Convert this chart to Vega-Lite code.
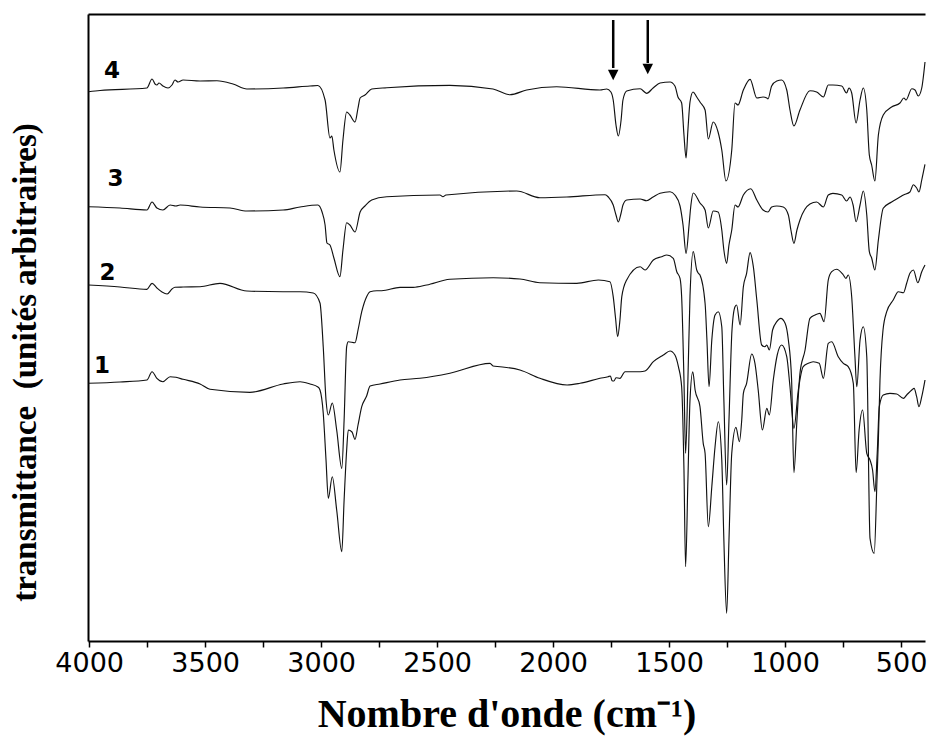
{
"$schema": "https://vega.github.io/schema/vega-lite/v6.json",
"width": 837, "height": 627,
"autosize": {"type": "none"},
"padding": {"left": 88, "top": 14, "right": 4, "bottom": 95},
"background": "white",
"config": {"view": {"stroke": null}, "axis": {"grid": false}},
"datasets": {
"spectra": [
{"s":"4","w":4003,"v":549.3},{"s":"4","w":3953,"v":550.5},{"s":"4","w":3751,"v":553},{"s":"4","w":3729,"v":562},{"s":"4","w":3716,"v":557},{"s":"4","w":3708,"v":556},{"s":"4","w":3699,"v":558},{"s":"4","w":3682,"v":555},{"s":"4","w":3660,"v":553},{"s":"4","w":3643,"v":556},{"s":"4","w":3630,"v":561},{"s":"4","w":3617,"v":559},{"s":"4","w":3595,"v":561},{"s":"4","w":3522,"v":560},{"s":"4","w":3449,"v":560.3},{"s":"4","w":3380,"v":557},{"s":"4","w":3320,"v":552},{"s":"4","w":3164,"v":553},{"s":"4","w":3048,"v":555},{"s":"4","w":3014,"v":555.5},{"s":"4","w":2983,"v":541},{"s":"4","w":2962,"v":503},{"s":"4","w":2954,"v":505},{"s":"4","w":2945,"v":491},{"s":"4","w":2919,"v":469},{"s":"4","w":2906,"v":501},{"s":"4","w":2890,"v":529},{"s":"4","w":2876,"v":526},{"s":"4","w":2854,"v":519},{"s":"4","w":2841,"v":533},{"s":"4","w":2832,"v":543},{"s":"4","w":2811,"v":546},{"s":"4","w":2782,"v":552},{"s":"4","w":2717,"v":553.3},{"s":"4","w":2445,"v":555.7},{"s":"4","w":2259,"v":552},{"s":"4","w":2186,"v":546.3},{"s":"4","w":2114,"v":551},{"s":"4","w":1985,"v":554.3},{"s":"4","w":1798,"v":551},{"s":"4","w":1769,"v":552},{"s":"4","w":1751,"v":549},{"s":"4","w":1741,"v":541},{"s":"4","w":1729,"v":516},{"s":"4","w":1719,"v":505},{"s":"4","w":1707,"v":521},{"s":"4","w":1699,"v":541},{"s":"4","w":1683,"v":550},{"s":"4","w":1625,"v":552.3},{"s":"4","w":1597,"v":547.7},{"s":"4","w":1569,"v":553},{"s":"4","w":1539,"v":558},{"s":"4","w":1496,"v":559},{"s":"4","w":1475,"v":555},{"s":"4","w":1462,"v":544},{"s":"4","w":1446,"v":538},{"s":"4","w":1436,"v":506},{"s":"4","w":1427,"v":483},{"s":"4","w":1419,"v":511},{"s":"4","w":1410,"v":539},{"s":"4","w":1397,"v":549},{"s":"4","w":1381,"v":544},{"s":"4","w":1367,"v":539},{"s":"4","w":1345,"v":531},{"s":"4","w":1331,"v":502},{"s":"4","w":1310,"v":519},{"s":"4","w":1289,"v":509},{"s":"4","w":1273,"v":491},{"s":"4","w":1255,"v":460},{"s":"4","w":1230,"v":491},{"s":"4","w":1216,"v":538},{"s":"4","w":1203,"v":536},{"s":"4","w":1180,"v":551},{"s":"4","w":1151,"v":561.7},{"s":"4","w":1122,"v":543},{"s":"4","w":1095,"v":544},{"s":"4","w":1079,"v":543},{"s":"4","w":1074,"v":542},{"s":"4","w":1058,"v":555},{"s":"4","w":1036,"v":560},{"s":"4","w":1015,"v":561},{"s":"4","w":993,"v":551},{"s":"4","w":979,"v":531},{"s":"4","w":962,"v":515},{"s":"4","w":936,"v":531},{"s":"4","w":893,"v":550.3},{"s":"4","w":864,"v":549},{"s":"4","w":835,"v":544},{"s":"4","w":814,"v":556},{"s":"4","w":794,"v":556},{"s":"4","w":756,"v":555},{"s":"4","w":735,"v":548},{"s":"4","w":725,"v":553},{"s":"4","w":713,"v":548},{"s":"4","w":694,"v":518},{"s":"4","w":677,"v":541},{"s":"4","w":663,"v":553},{"s":"4","w":648,"v":531},{"s":"4","w":637,"v":486},{"s":"4","w":627,"v":476},{"s":"4","w":613,"v":460},{"s":"4","w":598,"v":506},{"s":"4","w":577,"v":526},{"s":"4","w":541,"v":534},{"s":"4","w":505,"v":538},{"s":"4","w":488,"v":543},{"s":"4","w":479,"v":541},{"s":"4","w":454,"v":552.3},{"s":"4","w":440,"v":551},{"s":"4","w":426,"v":545},{"s":"4","w":411,"v":553},{"s":"4","w":397,"v":579},
{"s":"3","w":4003,"v":434.3},{"s":"3","w":3867,"v":433},{"s":"3","w":3751,"v":431},{"s":"3","w":3729,"v":439},{"s":"3","w":3708,"v":433},{"s":"3","w":3682,"v":431},{"s":"3","w":3651,"v":436},{"s":"3","w":3626,"v":435},{"s":"3","w":3608,"v":436},{"s":"3","w":3522,"v":434},{"s":"3","w":3393,"v":433},{"s":"3","w":3320,"v":430},{"s":"3","w":3164,"v":431},{"s":"3","w":3091,"v":434},{"s":"3","w":3014,"v":436},{"s":"3","w":2996,"v":429},{"s":"3","w":2983,"v":416},{"s":"3","w":2975,"v":398},{"s":"3","w":2962,"v":396},{"s":"3","w":2945,"v":383},{"s":"3","w":2919,"v":364.3},{"s":"3","w":2906,"v":391},{"s":"3","w":2890,"v":418.3},{"s":"3","w":2876,"v":416},{"s":"3","w":2854,"v":409},{"s":"3","w":2832,"v":429},{"s":"3","w":2811,"v":435},{"s":"3","w":2782,"v":441},{"s":"3","w":2717,"v":444.3},{"s":"3","w":2488,"v":446},{"s":"3","w":2475,"v":444.3},{"s":"3","w":2462,"v":446},{"s":"3","w":2157,"v":450},{"s":"3","w":2057,"v":443.3},{"s":"3","w":1941,"v":444},{"s":"3","w":1776,"v":446.3},{"s":"3","w":1762,"v":444},{"s":"3","w":1741,"v":436},{"s":"3","w":1729,"v":426},{"s":"3","w":1719,"v":419},{"s":"3","w":1707,"v":428},{"s":"3","w":1699,"v":436},{"s":"3","w":1683,"v":441},{"s":"3","w":1625,"v":442},{"s":"3","w":1597,"v":440.3},{"s":"3","w":1569,"v":444},{"s":"3","w":1539,"v":447.7},{"s":"3","w":1496,"v":449.3},{"s":"3","w":1475,"v":446},{"s":"3","w":1453,"v":435},{"s":"3","w":1440,"v":416},{"s":"3","w":1427,"v":387.7},{"s":"3","w":1414,"v":416},{"s":"3","w":1406,"v":436},{"s":"3","w":1396,"v":448},{"s":"3","w":1367,"v":438},{"s":"3","w":1345,"v":431},{"s":"3","w":1331,"v":413},{"s":"3","w":1310,"v":430},{"s":"3","w":1289,"v":429},{"s":"3","w":1273,"v":411},{"s":"3","w":1264,"v":391},{"s":"3","w":1252,"v":377.7},{"s":"3","w":1242,"v":396},{"s":"3","w":1230,"v":411},{"s":"3","w":1216,"v":436},{"s":"3","w":1203,"v":434},{"s":"3","w":1180,"v":446},{"s":"3","w":1148,"v":452.3},{"s":"3","w":1122,"v":441},{"s":"3","w":1095,"v":431},{"s":"3","w":1074,"v":429},{"s":"3","w":1058,"v":434},{"s":"3","w":1036,"v":435},{"s":"3","w":1008,"v":434},{"s":"3","w":986,"v":426},{"s":"3","w":975,"v":411},{"s":"3","w":962,"v":397.7},{"s":"3","w":949,"v":411},{"s":"3","w":936,"v":421},{"s":"3","w":893,"v":437},{"s":"3","w":864,"v":439},{"s":"3","w":835,"v":434},{"s":"3","w":814,"v":446},{"s":"3","w":794,"v":447.7},{"s":"3","w":756,"v":446},{"s":"3","w":735,"v":440},{"s":"3","w":720,"v":444},{"s":"3","w":707,"v":436},{"s":"3","w":694,"v":419.3},{"s":"3","w":677,"v":436},{"s":"3","w":663,"v":450},{"s":"3","w":648,"v":426},{"s":"3","w":637,"v":389.3},{"s":"3","w":627,"v":383},{"s":"3","w":613,"v":371},{"s":"3","w":598,"v":401},{"s":"3","w":577,"v":432.7},{"s":"3","w":541,"v":439},{"s":"3","w":505,"v":444},{"s":"3","w":490,"v":446},{"s":"3","w":462,"v":449},{"s":"3","w":447,"v":456.3},{"s":"3","w":433,"v":453},{"s":"3","w":423,"v":449},{"s":"3","w":411,"v":461},{"s":"3","w":397,"v":476.7},
{"s":"2","w":4003,"v":356},{"s":"2","w":3867,"v":354},{"s":"2","w":3751,"v":351.7},{"s":"2","w":3729,"v":357.7},{"s":"2","w":3708,"v":353},{"s":"2","w":3686,"v":349},{"s":"2","w":3664,"v":347},{"s":"2","w":3643,"v":352},{"s":"2","w":3630,"v":353.7},{"s":"2","w":3595,"v":354},{"s":"2","w":3522,"v":354.3},{"s":"2","w":3436,"v":357.7},{"s":"2","w":3320,"v":350},{"s":"2","w":3164,"v":349.3},{"s":"2","w":3091,"v":349.3},{"s":"2","w":3034,"v":348},{"s":"2","w":3005,"v":338},{"s":"2","w":2991,"v":294.3},{"s":"2","w":2979,"v":241},{"s":"2","w":2969,"v":226},{"s":"2","w":2952,"v":238},{"s":"2","w":2933,"v":211},{"s":"2","w":2911,"v":172.7},{"s":"2","w":2901,"v":221},{"s":"2","w":2890,"v":294.3},{"s":"2","w":2883,"v":299.3},{"s":"2","w":2854,"v":298.3},{"s":"2","w":2841,"v":311},{"s":"2","w":2825,"v":329.3},{"s":"2","w":2804,"v":344.3},{"s":"2","w":2789,"v":349.3},{"s":"2","w":2760,"v":350.3},{"s":"2","w":2739,"v":350.3},{"s":"2","w":2660,"v":353.7},{"s":"2","w":2603,"v":353.7},{"s":"2","w":2545,"v":356},{"s":"2","w":2445,"v":361.7},{"s":"2","w":2258,"v":363.3},{"s":"2","w":2143,"v":362},{"s":"2","w":2057,"v":358.3},{"s":"2","w":1898,"v":357.7},{"s":"2","w":1805,"v":361},{"s":"2","w":1755,"v":359.3},{"s":"2","w":1741,"v":344.3},{"s":"2","w":1731,"v":323},{"s":"2","w":1722,"v":304.3},{"s":"2","w":1712,"v":321},{"s":"2","w":1704,"v":344.3},{"s":"2","w":1683,"v":361},{"s":"2","w":1625,"v":374.3},{"s":"2","w":1604,"v":371},{"s":"2","w":1568,"v":381},{"s":"2","w":1532,"v":384.3},{"s":"2","w":1510,"v":386},{"s":"2","w":1482,"v":382.7},{"s":"2","w":1467,"v":369.3},{"s":"2","w":1453,"v":362.7},{"s":"2","w":1446,"v":344.3},{"s":"2","w":1436,"v":261},{"s":"2","w":1429,"v":187.7},{"s":"2","w":1419,"v":261},{"s":"2","w":1410,"v":345},{"s":"2","w":1396,"v":389.3},{"s":"2","w":1381,"v":371},{"s":"2","w":1374,"v":367.7},{"s":"2","w":1367,"v":366},{"s":"2","w":1345,"v":337.7},{"s":"2","w":1337,"v":301},{"s":"2","w":1328,"v":254.3},{"s":"2","w":1316,"v":301},{"s":"2","w":1302,"v":326},{"s":"2","w":1288,"v":329.3},{"s":"2","w":1273,"v":314.3},{"s":"2","w":1264,"v":241},{"s":"2","w":1252,"v":156},{"s":"2","w":1242,"v":221},{"s":"2","w":1229,"v":311},{"s":"2","w":1216,"v":334.3},{"s":"2","w":1209,"v":336},{"s":"2","w":1194,"v":316},{"s":"2","w":1180,"v":354.3},{"s":"2","w":1166,"v":367.7},{"s":"2","w":1151,"v":388.3},{"s":"2","w":1137,"v":374.3},{"s":"2","w":1122,"v":341},{"s":"2","w":1101,"v":296},{"s":"2","w":1087,"v":294.3},{"s":"2","w":1079,"v":296},{"s":"2","w":1068,"v":291},{"s":"2","w":1054,"v":311},{"s":"2","w":1036,"v":319.3},{"s":"2","w":1019,"v":322.7},{"s":"2","w":1000,"v":317.7},{"s":"2","w":986,"v":301},{"s":"2","w":972,"v":261},{"s":"2","w":962,"v":168.3},{"s":"2","w":949,"v":221},{"s":"2","w":936,"v":267.7},{"s":"2","w":914,"v":291},{"s":"2","w":893,"v":322.7},{"s":"2","w":871,"v":326},{"s":"2","w":850,"v":327.7},{"s":"2","w":832,"v":319.3},{"s":"2","w":814,"v":361},{"s":"2","w":799,"v":369.3},{"s":"2","w":778,"v":371.7},{"s":"2","w":749,"v":366},{"s":"2","w":738,"v":362.7},{"s":"2","w":728,"v":366},{"s":"2","w":713,"v":344.3},{"s":"2","w":699,"v":284.3},{"s":"2","w":691,"v":254.3},{"s":"2","w":677,"v":301},{"s":"2","w":663,"v":314.3},{"s":"2","w":648,"v":284.3},{"s":"2","w":634,"v":102.7},{"s":"2","w":616,"v":87.7},{"s":"2","w":604,"v":161},{"s":"2","w":598,"v":201},{"s":"2","w":591,"v":261},{"s":"2","w":578,"v":311},{"s":"2","w":562,"v":329.3},{"s":"2","w":534,"v":341},{"s":"2","w":512,"v":349.3},{"s":"2","w":490,"v":348.3},{"s":"2","w":476,"v":357.7},{"s":"2","w":462,"v":367.7},{"s":"2","w":447,"v":371},{"s":"2","w":428,"v":358.3},{"s":"2","w":411,"v":369.3},{"s":"2","w":397,"v":376},
{"s":"1","w":4003,"v":257.7},{"s":"1","w":3867,"v":259},{"s":"1","w":3751,"v":261},{"s":"1","w":3729,"v":269.3},{"s":"1","w":3708,"v":262.7},{"s":"1","w":3682,"v":259.3},{"s":"1","w":3651,"v":264.3},{"s":"1","w":3626,"v":263.7},{"s":"1","w":3595,"v":261.7},{"s":"1","w":3522,"v":257},{"s":"1","w":3479,"v":251.7},{"s":"1","w":3307,"v":248.7},{"s":"1","w":3164,"v":257},{"s":"1","w":3091,"v":259.3},{"s":"1","w":3048,"v":257},{"s":"1","w":3014,"v":254},{"s":"1","w":3005,"v":251},{"s":"1","w":2991,"v":228},{"s":"1","w":2979,"v":181},{"s":"1","w":2969,"v":142.7},{"s":"1","w":2952,"v":164.3},{"s":"1","w":2933,"v":131},{"s":"1","w":2911,"v":89.3},{"s":"1","w":2901,"v":141},{"s":"1","w":2890,"v":191},{"s":"1","w":2883,"v":211},{"s":"1","w":2867,"v":209},{"s":"1","w":2854,"v":201.7},{"s":"1","w":2841,"v":216},{"s":"1","w":2825,"v":234.3},{"s":"1","w":2804,"v":245},{"s":"1","w":2789,"v":255},{"s":"1","w":2746,"v":257},{"s":"1","w":2660,"v":261},{"s":"1","w":2574,"v":262.7},{"s":"1","w":2445,"v":267.7},{"s":"1","w":2272,"v":277.7},{"s":"1","w":2259,"v":275},{"s":"1","w":2229,"v":274.3},{"s":"1","w":2143,"v":271},{"s":"1","w":2057,"v":262.7},{"s":"1","w":1940,"v":256},{"s":"1","w":1884,"v":257.7},{"s":"1","w":1798,"v":262.7},{"s":"1","w":1763,"v":264.3},{"s":"1","w":1753,"v":265},{"s":"1","w":1746,"v":260.3},{"s":"1","w":1738,"v":260},{"s":"1","w":1729,"v":263.3},{"s":"1","w":1712,"v":262.7},{"s":"1","w":1690,"v":269.3},{"s":"1","w":1625,"v":269.3},{"s":"1","w":1604,"v":270},{"s":"1","w":1568,"v":279.3},{"s":"1","w":1525,"v":286},{"s":"1","w":1496,"v":290},{"s":"1","w":1475,"v":286},{"s":"1","w":1460,"v":274.3},{"s":"1","w":1446,"v":254.3},{"s":"1","w":1436,"v":171},{"s":"1","w":1429,"v":74.3},{"s":"1","w":1419,"v":161},{"s":"1","w":1410,"v":241},{"s":"1","w":1398,"v":269.3},{"s":"1","w":1388,"v":251},{"s":"1","w":1367,"v":234.3},{"s":"1","w":1353,"v":197.7},{"s":"1","w":1345,"v":187.7},{"s":"1","w":1331,"v":114.3},{"s":"1","w":1316,"v":154.3},{"s":"1","w":1302,"v":194.3},{"s":"1","w":1288,"v":219.3},{"s":"1","w":1273,"v":181},{"s":"1","w":1264,"v":101},{"s":"1","w":1252,"v":27.7},{"s":"1","w":1242,"v":101},{"s":"1","w":1230,"v":187.7},{"s":"1","w":1212,"v":213.7},{"s":"1","w":1197,"v":199.3},{"s":"1","w":1187,"v":221},{"s":"1","w":1180,"v":247.7},{"s":"1","w":1166,"v":257.7},{"s":"1","w":1144,"v":287},{"s":"1","w":1130,"v":277.7},{"s":"1","w":1116,"v":251},{"s":"1","w":1098,"v":211},{"s":"1","w":1079,"v":232.7},{"s":"1","w":1068,"v":226},{"s":"1","w":1051,"v":261},{"s":"1","w":1034,"v":286},{"s":"1","w":1015,"v":296},{"s":"1","w":993,"v":284.3},{"s":"1","w":979,"v":254.3},{"s":"1","w":962,"v":212.7},{"s":"1","w":943,"v":251},{"s":"1","w":922,"v":274.3},{"s":"1","w":900,"v":277.7},{"s":"1","w":879,"v":279.3},{"s":"1","w":853,"v":277.7},{"s":"1","w":835,"v":262.7},{"s":"1","w":814,"v":297.7},{"s":"1","w":799,"v":299.3},{"s":"1","w":771,"v":284.3},{"s":"1","w":749,"v":277.7},{"s":"1","w":728,"v":274.3},{"s":"1","w":706,"v":257.7},{"s":"1","w":694,"v":168.3},{"s":"1","w":681,"v":211},{"s":"1","w":666,"v":231},{"s":"1","w":648,"v":187.7},{"s":"1","w":634,"v":181},{"s":"1","w":623,"v":171},{"s":"1","w":613,"v":149.3},{"s":"1","w":603,"v":187.7},{"s":"1","w":594,"v":234.3},{"s":"1","w":577,"v":246},{"s":"1","w":548,"v":247.7},{"s":"1","w":519,"v":247},{"s":"1","w":490,"v":242.7},{"s":"1","w":476,"v":246},{"s":"1","w":454,"v":251},{"s":"1","w":444,"v":252.7},{"s":"1","w":433,"v":244.3},{"s":"1","w":423,"v":234.3},{"s":"1","w":411,"v":244.3},{"s":"1","w":397,"v":261}
],
"labels": [{"label":"4","w":3902,"v":570},{"label":"3","w":3886,"v":462},{"label":"2","w":3921,"v":368.5},{"label":"1","w":3945,"v":275.5}],
"arrows": [{"w":1741,"v_start":621,"v_end":573,"v_head":566},{"w":1592,"v_start":621,"v_end":578,"v_head":572}]
},
"resolve": {"axis": {"x": "independent", "y": "independent"}},
"layer": [
{"data": {"name": "spectra"},
 "mark": {"type": "line", "color": "#111111", "strokeWidth": 1.15, "interpolate": "monotone"},
 "encoding": {
  "x": {"field": "w", "type": "quantitative", "scale": {"domain": [4005, 397], "nice": false, "zero": false},
   "axis": {"orient": "bottom", "values": [4000,3750,3500,3250,3000,2750,2500,2250,2000,1750,1500,1250,1000,750,500],
    "labelExpr": "datum.value % 500 === 0 ? datum.value : ''",
    "tickSize": 6, "tickWidth": 1.5, "tickColor": "black", "domainWidth": 2, "domainColor": "black",
    "labelFont": "DejaVu Sans", "labelFontSize": 27, "labelColor": "black", "labelPadding": 3, "labelFlush": false, "labelOverlap": false,
    "title": "Nombre d'onde (cm⁻¹)", "titleFont": "Liberation Serif", "titleFontSize": 40, "titleFontWeight": "bold", "titleColor": "black", "titlePadding": 18}},
  "y": {"field": "v", "type": "quantitative", "scale": {"domain": [0, 627], "nice": false, "zero": false},
   "axis": {"orient": "left", "ticks": false, "labels": false, "domainWidth": 2, "domainColor": "black",
    "title": "transmittance\u00a0 (unités arbitraires)", "titleFont": "Liberation Serif", "titleFontSize": 33, "titleFontWeight": "bold", "titleColor": "black", "titlePadding": 46, "titleY": 348}},
  "detail": {"field": "s"},
  "order": {"field": "w", "sort": "descending"}
 }},
{"data": {"name": "arrows"},
 "mark": {"type": "rule", "color": "black", "strokeWidth": 2.5},
 "encoding": {
  "x": {"field": "w", "type": "quantitative", "scale": {"domain": [4005, 397], "nice": false, "zero": false},
   "axis": {"orient": "top", "ticks": false, "labels": false, "domainWidth": 2, "domainColor": "black", "title": null}},
  "y": {"field": "v_start", "type": "quantitative", "scale": {"domain": [0, 627], "nice": false, "zero": false}, "axis": null},
  "y2": {"field": "v_end"}
 }},
{"data": {"name": "arrows"},
 "mark": {"type": "point", "shape": "M-1,-1L1,-1L0,1Z", "filled": true, "color": "black", "opacity": 1, "size": 110},
 "encoding": {
  "x": {"field": "w", "type": "quantitative", "scale": {"domain": [4005, 397], "nice": false, "zero": false}, "axis": null},
  "y": {"field": "v_head", "type": "quantitative", "scale": {"domain": [0, 627], "nice": false, "zero": false}, "axis": null}
 }},
{"data": {"name": "labels"},
 "mark": {"type": "text", "font": "DejaVu Sans", "fontWeight": "bold", "fontSize": 23, "color": "black", "align": "center", "baseline": "middle"},
 "encoding": {
  "x": {"field": "w", "type": "quantitative", "scale": {"domain": [4005, 397], "nice": false, "zero": false}, "axis": null},
  "y": {"field": "v", "type": "quantitative", "scale": {"domain": [0, 627], "nice": false, "zero": false}, "axis": null},
  "text": {"field": "label"}
 }}
]
}
